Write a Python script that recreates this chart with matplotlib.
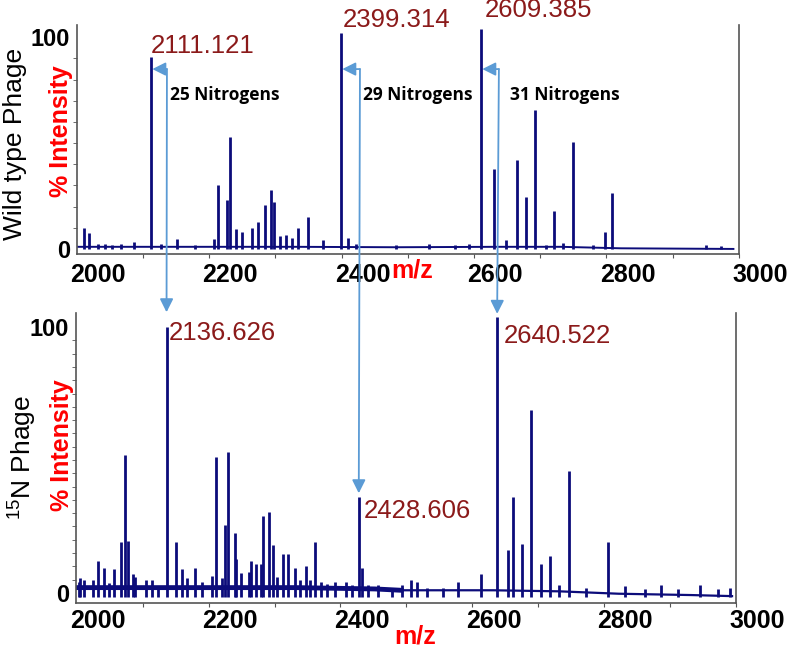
import numpy as np
import matplotlib
matplotlib.use('Agg')
import matplotlib.pyplot as plt
from matplotlib.patches import ConnectionPatch

plt.rcParams['font.family'] = ['Liberation Sans', 'DejaVu Sans']
plt.rcParams['mathtext.fontset'] = 'custom'
plt.rcParams['mathtext.rm'] = 'Liberation Sans'

# wild type phage: peak positions (m/z as drawn on the axis) and % intensity
wt_mz = [1978.9, 1986.4, 2000, 2010.6, 2021, 2035, 2054, 2080.1, 2095, 2119,
         2146.5, 2175, 2181.3, 2194.9, 2199.4, 2208.5, 2217.5, 2232.6, 2241.7,
         2252.3, 2261.3, 2265.9, 2274.9, 2284.0, 2293.1, 2302.1, 2317.2, 2339.9,
         2367.1, 2377.7, 2390, 2450, 2500, 2540, 2560, 2578.6, 2598.2, 2616.3,
         2632.9, 2646.5, 2660.1, 2676.7, 2688.8, 2702.4, 2717.5, 2747.7, 2765.9,
         2776.4, 2918.5, 2941]
wt_int = [10, 7.5, 2.5, 2.5, 2, 2.3, 3.5, 90.5, 2.5, 4.5,
          2, 4.5, 30, 23, 53, 9.4, 8, 10, 12.7,
          21, 28, 22, 6, 6.6, 5, 10, 15, 4,
          102, 5, 2.5, 2, 2.5, 2, 2.5, 104, 37.7, 4,
          42, 24.5, 65.6, 2, 18, 3, 50.5, 2, 8,
          26.5, 2, 1.5]
wt_base_mz = [1970, 2100, 2300, 2450, 2600, 2700, 2790, 2960]
wt_base_int = [1.0, 1.0, 1.0, 0.8, 1.0, 1.0, 0.3, 0.0]

# 15N phage
n15_mz = [1971, 1972.8, 1979, 1992, 2000, 2009, 2017, 2024, 2034.7, 2040.8,
          2045.3, 2052.9, 2056, 2072.5, 2081.6, 2090.6, 2104.2, 2119.3, 2128.4,
          2134.5, 2148, 2158.6, 2173.7, 2179.8, 2189, 2193.4, 2197.9, 2208.5,
          2210, 2217.5, 2229.6, 2232.6, 2240.2, 2247.7, 2250.8, 2259.8, 2265.9,
          2272, 2281, 2288.5, 2299.1, 2306, 2315.7, 2322, 2329.3, 2338, 2347.4,
          2360, 2376.1, 2385, 2395.8, 2400.3, 2410, 2425, 2445.6, 2460.7, 2474.3,
          2483.4, 2500, 2524.2, 2546.8, 2581.6, 2605.7, 2622.4, 2629.9, 2643.5,
          2657.1, 2672.2, 2685.8, 2700, 2714.5, 2740, 2773.4, 2799.1, 2830,
          2853.5, 2880, 2913.9, 2940, 2959]
n15_int = [4, 5.6, 5, 5, 12, 9.4, 3.8, 9, 19, 52,
           19.5, 7, 6, 5, 5, 2.6, 100, 19, 9,
           5.6, 9.4, 4, 6.4, 51, 5.6, 25.6, 53, 22.5,
           12.8, 7.5, 8, 12, 11, 11, 29, 30.5, 18,
           6, 14.6, 14.6, 9.4, 5, 10, 5, 19, 4, 3.5,
           4, 4, 3, 36, 9.5, 3, 3, 1, 3, 5,
           4, 2, 2, 4, 7, 104, 16, 36, 18.5,
           69, 11, 14, 3, 46, 2, 19, 2.5, 1.5,
           3, 1.5, 3, 1.5, 2]
# noisy part of the baseline and the quiet tail
n15_noise_mz = [1968, 2100, 2300, 2420, 2460]
n15_noise_int = [2.0, 2.0, 2.0, 1.5, 1.0]
n15_tail_mz = [2460, 2600, 2700, 2790, 2900, 2962]
n15_tail_int = [1.0, 1.0, 0.6, -0.3, -0.8, -1.2]

# labelled peaks
wt_label_mz = [2080.1, 2367.1, 2578.6]
wt_labels = ['2111.121', '2399.314', '2609.385']
wt_label_pos = [(2080, 96), (2370, 108), (2584, 112.7)]
n15_label_mz = [2104.2, 2395.8, 2605.7]
n15_labels = ['2136.626', '2428.606', '2640.522']
n15_label_pos = [(2107, 97.7), (2403.5, 30.8), (2615, 96.6)]
arrow_tip = [105.6, 37.5, 105.0]
nitrogen_labels = ['25 Nitrogens', '29 Nitrogens', '31 Nitrogens']
nitrogen_x = [2108.8, 2400.3, 2622.4]

xtick_labels = [2000, 2200, 2400, 2600, 2800, 3000]

navy = '#0c0c7a'
blue = '#5b9bd5'
red_dark = '#8b1a1a'
spine_col = '#555555'

fig = plt.figure(figsize=(7.88, 6.48), dpi=100)
ax1 = fig.add_axes([0.0977, 0.608, 0.840, 0.353])
ax2 = fig.add_axes([0.0964, 0.0694, 0.8376, 0.4475])


def style_axis(ax, xlim, ylim, yminor, label_off):
    ax.set_xlim(*xlim)
    ax.set_ylim(*ylim)
    ax.spines['top'].set_visible(False)
    for s in ['left', 'right', 'bottom']:
        ax.spines[s].set_color(spine_col)
        ax.spines[s].set_linewidth(1.2)
    ax.set_yticks([0, 100])
    ax.set_yticklabels(['0', '100'], fontsize=17, fontweight='bold')
    ax.set_yticks(yminor, minor=True)
    ax.tick_params(axis='y', which='major', length=0, pad=5)
    ax.tick_params(axis='y', which='minor', length=3, color=spine_col)
    ax.set_xticks(np.arange(2068, 2969, 100))
    ax.set_xticklabels([])
    ax.tick_params(axis='x', length=3, color=spine_col)
    for v in xtick_labels:
        ax.annotate(str(v), xy=(v, 0), xycoords=('data', 'axes fraction'),
                    xytext=(0, -label_off), textcoords='offset pixels',
                    ha='center', va='center', fontsize=18, fontweight='bold',
                    annotation_clip=False)


style_axis(ax1, (1968.3, 2968.3), (-2.4, 105.7), np.arange(10, 100, 10), 21)
style_axis(ax2, (1966.8, 2963.7), (-3.8, 105.3), np.arange(5, 100, 5), 18)

ax1.plot(wt_base_mz, wt_base_int, color=navy, lw=1.4)
ax1.vlines(wt_mz, 0, wt_int, color=navy, lw=2)
ax2.plot(n15_noise_mz, n15_noise_int, color=navy, lw=3.5)
ax2.plot(n15_tail_mz, n15_tail_int, color=navy, lw=1.6)
ax2.vlines(n15_mz, -1.5, n15_int, color=navy, lw=2)

for lab, (x, y) in zip(wt_labels, wt_label_pos):
    ax1.text(x, y, lab, color=red_dark, fontsize=18.5, ha='left', va='center',
             clip_on=False)
for lab, (x, y) in zip(n15_labels, n15_label_pos):
    ax2.text(x, y, lab, color=red_dark, fontsize=18.5, ha='left', va='center',
             clip_on=False)

# arrows linking the wild type peaks to the shifted 15N peaks
for i in range(3):
    bx = n15_label_mz[i]
    ax1.annotate('', xy=(wt_label_mz[i] + 2, 85), xytext=(bx, 85),
                 arrowprops=dict(arrowstyle='-|>', color=blue, lw=1.3,
                                 mutation_scale=20, shrinkA=0, shrinkB=0))
    con = ConnectionPatch(xyA=(bx, 85), coordsA=ax1.transData,
                          xyB=(bx, arrow_tip[i]), coordsB=ax2.transData,
                          arrowstyle='-|>', color=blue, lw=1.3,
                          mutation_scale=20, shrinkA=0, shrinkB=0)
    fig.add_artist(con)
    ax1.text(nitrogen_x[i], 72.6, nitrogen_labels[i], family='Open Sans',
             fontweight='bold', fontsize=12.5, ha='left', va='center')

# axis titles
fig.text(412 / 788, 1 - 270 / 648, 'm/z', color='red', fontsize=18,
         fontweight='bold', ha='center', va='center')
fig.text(415 / 788, 1 - 636 / 648, 'm/z', color='red', fontsize=18,
         fontweight='bold', ha='center', va='center')
fig.text(61 / 788, 1 - 131 / 648, '% Intensity', color='red', fontsize=18,
         fontweight='bold', rotation=90, ha='center', va='center')
fig.text(62 / 788, 1 - 445 / 648, '% Intensity', color='red', fontsize=18,
         fontweight='bold', rotation=90, ha='center', va='center')
fig.text(15 / 788, 1 - 144 / 648, 'Wild type Phage', fontsize=19,
         rotation=90, ha='center', va='center')
fig.text(22 / 788, 1 - 457 / 648, r'$^{15}$N Phage', fontsize=19,
         rotation=90, ha='center', va='center')

fig.savefig('out.png', dpi=100)
